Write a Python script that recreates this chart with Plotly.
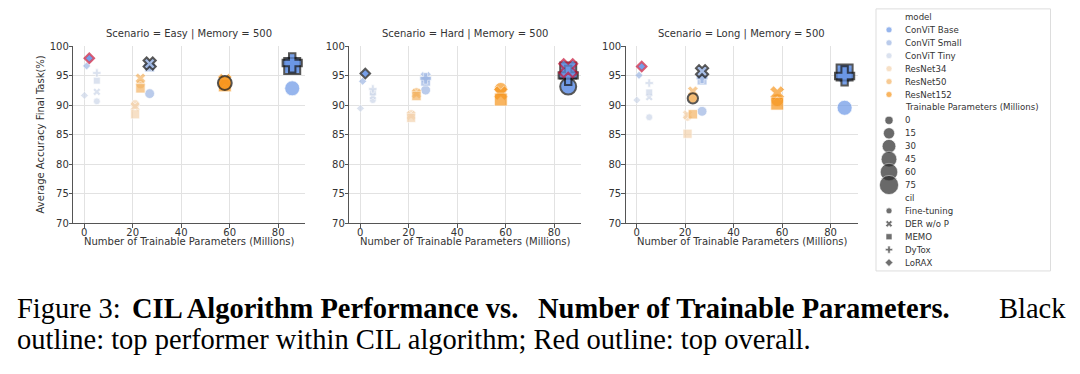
import numpy as np
import plotly.graph_objects as go

# ---------------- data ----------------
scenarios = ["Easy", "Hard", "Long"]
memory = 500
models = ["ConViT Base", "ConViT Small", "ConViT Tiny", "ResNet34", "ResNet50", "ResNet152"]
model_colors = ["#6b97e6", "#9db6e3", "#cdd7e9", "#f4d3ae", "#f4b566", "#f7961e"]
methods = ["Fine-tuning", "DER w/o P", "MEMO", "DyTox", "LoRAX"]
method_symbols = ["circle", "x", "square", "cross", "diamond"]
size_levels = [0, 15, 30, 45, 60, 75]

# trainable parameters (millions)
params_full = [85.8, 27.0, 5.2, 21.0, 23.2, 58.0]
params_lorax = [2.1, 1.0, 0.1, None, None, None]

# accuracy[model][method]  (methods order above; None = not evaluated)
acc_easy = [
    [92.9, 96.9, 96.7, 97.2, 98.0],
    [92.0, 97.1, 96.5, 96.8, 96.7],
    [90.7, 92.3, 94.2, 95.5, 91.7],
    [90.2, 89.8, 88.5, None, None],
    [93.6, 94.6, 92.9, None, None],
    [93.8, 94.2, 93.4, None, None],
]
acc_hard = [
    [93.2, 96.3, 95.9, 95.1, 95.4],
    [92.6, 94.8, 94.1, 94.6, 94.1],
    [90.9, 91.6, 92.2, 92.8, 89.5],
    [88.5, 88.3, 87.9, None, None],
    [92.2, 92.0, 91.6, None, None],
    [92.8, 92.1, 91.0, None, None],
]
acc_long = [
    [89.6, 95.3, 95.6, 95.0, 96.6],
    [89.0, 95.8, 94.3, 94.7, 95.1],
    [88.0, 91.4, 92.2, 93.8, 90.9],
    [88.1, 88.4, 85.2, None, None],
    [91.2, 92.4, 88.5, None, None],
    [90.9, 92.1, 90.3, None, None],
]
acc_by_scenario = [acc_easy, acc_hard, acc_long]

x_ticks = [0, 20, 40, 60, 80]
y_ticks = [70, 75, 80, 85, 90, 95, 100]

caption_1_parts = ["Figure 3:", "<b>CIL Algorithm Performance vs.</b>",
                   "<b>Number of Trainable Parameters.</b>", "Black"]
caption_2 = "outline: top performer within CIL algorithm; Red outline: top overall."

# ---------------- layout helpers ----------------
W, H = 1080, 374
FONT = "DejaVu Sans"
TXT = "#333333"


def fx(px):
    return px / W


def fy(py):
    return 1 - py / H


def msize(v, k=1.0):
    return k * np.sqrt(36 + 2.2 * v)


def trainable(mi, ki):
    return params_lorax[mi] if methods[ki] == "LoRAX" else params_full[mi]


panel_left = [73.3, 349.3, 625.7]
panel_w = 232.0
top_py, bot_py = 42.7, 225.0
x_range = [-4.5, 91.2]

fig = go.Figure()
layout = dict(
    width=W, height=H, margin=dict(l=0, r=0, t=0, b=0),
    paper_bgcolor="white", plot_bgcolor="white", showlegend=False,
    font=dict(family=FONT, size=10, color=TXT),
)
annotations = []

for si, scen in enumerate(scenarios):
    acc = acc_by_scenario[si]
    xa = "x" if si == 0 else f"x{si+1}"
    ya = "y" if si == 0 else f"y{si+1}"
    left = panel_left[si]
    layout["xaxis" if si == 0 else f"xaxis{si+1}"] = dict(
        domain=[fx(left), fx(left + panel_w)], range=x_range, anchor=ya,
        tickvals=x_ticks, showgrid=True, gridcolor="#e2e2e2", gridwidth=1,
        zeroline=False, showline=True, linecolor="#555555", linewidth=1,
        ticks="outside", ticklen=3.5, tickcolor="#555555", ticklabelstandoff=-4,
        tickfont=dict(family=FONT, size=10, color=TXT),
    )
    layout["yaxis" if si == 0 else f"yaxis{si+1}"] = dict(
        domain=[fy(bot_py), fy(top_py)], range=[70, 100], anchor=xa,
        tickvals=y_ticks, showgrid=True, gridcolor="#e2e2e2", gridwidth=1,
        zeroline=False, showline=True, linecolor="#555555", linewidth=1,
        ticks="outside", ticklen=3.5, tickcolor="#555555", ticklabelstandoff=-2,
        tickfont=dict(family=FONT, size=10, color=TXT),
    )

    records = []
    for mi in range(len(models)):
        for ki in range(len(methods)):
            v = acc[mi][ki]
            if v is None:
                continue
            records.append((mi, ki, trainable(mi, ki), v))

    # base points, one trace per model
    for mi, mname in enumerate(models):
        rs = [r for r in records if r[0] == mi]
        fig.add_trace(go.Scatter(
            x=[r[2] for r in rs], y=[r[3] for r in rs], mode="markers",
            xaxis=xa, yaxis=ya, name=mname,
            marker=dict(color=model_colors[mi],
                        symbol=[method_symbols[r[1]] for r in rs],
                        size=[msize(r[2]) for r in rs],
                        line=dict(color="white", width=0.7)),
        ))

    # highlights: best within each method (black), best overall (red)
    overall = max(records, key=lambda r: r[3])
    bests = []
    for ki in range(len(methods)):
        rs = [r for r in records if r[1] == ki]
        b = max(rs, key=lambda r: r[3])
        if b is not overall:
            bests.append(b)
    for group, col in ((bests, "#111111"), ([overall], "#c8173a")):
        fig.add_trace(go.Scatter(
            x=[r[2] for r in group], y=[r[3] for r in group], mode="markers",
            xaxis=xa, yaxis=ya,
            marker=dict(color=[model_colors[r[0]] for r in group],
                        symbol=[method_symbols[r[1]] for r in group],
                        size=[msize(r[2]) + 1 for r in group],
                        line=dict(color=col, width=2)),
        ))

    cx = fx(left + panel_w / 2)
    annotations.append(dict(
        text=f"Scenario = {scen} | Memory = {memory}", x=cx, y=fy(30),
        xref="paper", yref="paper", showarrow=False, xanchor="center", yanchor="middle",
        font=dict(family=FONT, size=10, color=TXT)))
    annotations.append(dict(
        text="Number of Trainable Parameters (Millions)", x=cx, y=fy(243.5),
        xref="paper", yref="paper", showarrow=False, xanchor="center", yanchor="middle",
        font=dict(family=FONT, size=10, color=TXT)))

annotations.append(dict(
    text="Average Accuracy Final Task(%)", x=fx(40.5), y=fy((top_py + bot_py) / 2),
    xref="paper", yref="paper", showarrow=False, textangle=-90,
    xanchor="center", yanchor="middle", font=dict(family=FONT, size=10, color=TXT)))

# ---------------- custom legend ----------------
leg_l, leg_r, leg_t, leg_b = 876.0, 1050.5, 4.0, 274.0
rows = (["model"] + models + ["Trainable Parameters (Millions)"]
        + [str(v) for v in size_levels] + ["cil"] + methods)
step = 13.32
first_row = 12.3
r0 = -(first_row - leg_t) / step
r1 = r0 + (leg_b - leg_t) / step
layout["xaxis4"] = dict(domain=[fx(leg_l), fx(leg_r)], range=[leg_l, leg_r],
                        visible=False, anchor="y4", fixedrange=True)
layout["yaxis4"] = dict(domain=[fy(leg_b), fy(leg_t)], range=[r1, r0],
                        visible=False, anchor="x4", fixedrange=True)

mk_x = 889.0
txt_x = 903.0
lx, ly, lc, ls, lsym = [], [], [], [], []
idx = 1
for mi in range(len(models)):
    lx.append(mk_x); ly.append(idx); lc.append(model_colors[mi]); ls.append(6); lsym.append("circle")
    idx += 1
idx += 1
for v in size_levels:
    lx.append(mk_x); ly.append(idx); lc.append("#2b2b2b"); ls.append(msize(v, 1.35)); lsym.append("circle")
    idx += 1
idx += 1
for ki in range(len(methods)):
    lx.append(mk_x); ly.append(idx); lc.append("#333333"); ls.append(6); lsym.append(method_symbols[ki])
    idx += 1
fig.add_trace(go.Scatter(x=lx, y=ly, mode="markers", xaxis="x4", yaxis="y4",
                         marker=dict(color=lc, size=ls, symbol=lsym,
                                     line=dict(color="white", width=0.6)),
                         hoverinfo="skip"))
for i, t in enumerate(rows):
    annotations.append(dict(text=t, x=txt_x, y=i, xref="x4", yref="y4", showarrow=False,
                            xanchor="left", yanchor="middle",
                            font=dict(family=FONT, size=8.6, color=TXT)))

shapes = [dict(type="rect", xref="paper", yref="paper", x0=fx(leg_l), x1=fx(leg_r),
               y0=fy(leg_b), y1=fy(leg_t), line=dict(color="#dddddd", width=1),
               fillcolor="rgba(0,0,0,0)", layer="below")]

# ---------------- caption (justified first line) ----------------
SERIF = "Liberation Serif"
CAP = 28.5
line1_y, line2_y = 313, 345
part_pos = [(15, "left"), (130, "left"), (536, "left"), (1068, "right")]
for (px, anc), txt in zip(part_pos, caption_1_parts):
    annotations.append(dict(text=txt, x=fx(px), y=fy(line1_y), xref="paper", yref="paper",
                            showarrow=False, xanchor=anc, yanchor="middle",
                            font=dict(family=SERIF, size=CAP, color="black")))
annotations.append(dict(text=caption_2, x=fx(15), y=fy(line2_y), xref="paper", yref="paper",
                        showarrow=False, xanchor="left", yanchor="middle",
                        font=dict(family=SERIF, size=CAP, color="black")))

layout["annotations"] = annotations
layout["shapes"] = shapes
fig.update_layout(**layout)
fig.write_html("out.html", config={"displayModeBar": False},
               post_script="document.body.style.margin='0';document.body.style.padding='0';")
